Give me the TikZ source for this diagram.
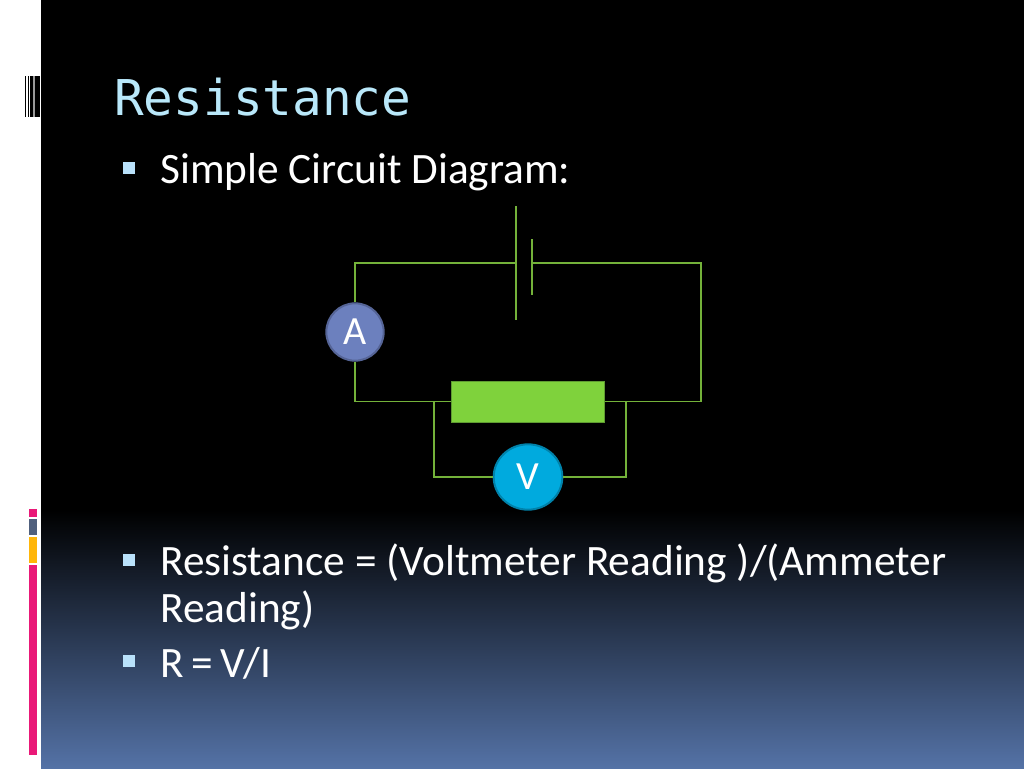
\documentclass[tikz,border=0pt]{standalone}
\usepackage{fontspec}
\setmainfont{Carlito}
\newfontfamily\titlefont{DejaVu Sans Mono}
\usetikzlibrary{shapes.geometric}
\definecolor{wire}{RGB}{116,178,58}
\definecolor{resfill}{RGB}{127,210,60}
\definecolor{resedge}{RGB}{95,155,50}
\definecolor{ammfill}{RGB}{108,128,190}
\definecolor{ammedge}{RGB}{85,100,150}
\definecolor{voltfill}{RGB}{0,170,222}
\definecolor{voltedge}{RGB}{0,130,170}
\definecolor{titlecol}{RGB}{185,232,250}
\definecolor{bullcol}{RGB}{185,225,250}
\definecolor{pinkbar}{RGB}{233,25,120}
\definecolor{greybar}{RGB}{80,96,125}
\definecolor{amberbar}{RGB}{255,182,10}
\definecolor{bluebottom}{RGB}{84,114,166}
\tikzset{
  x=0.75pt,y=-0.75pt,
  wireline/.style={draw=wire,line width=1.1pt},
  meter/.style={ellipse,inner sep=0pt,text=white,line width=1.5pt,font=\fontsize{30}{30}\selectfont},
  bodytext/.style={text=white,anchor=base west,inner sep=0pt,font=\fontsize{32.5}{35}\selectfont},
  bull/.style={fill=bullcol,minimum size=8.5pt,inner sep=0pt},
  bar/.style={fill=#1,draw=none}
}
\begin{document}
\begin{tikzpicture}
\useasboundingbox (0,0) rectangle (1024,768);
\fill[white] (0,0) rectangle (1024,768);
\fill[black] (41,0) rectangle (1024,511);
\shade[top color=black,bottom color=bluebottom,shading angle=0] (41,510) rectangle (1024,768);
% corner icon
\fill[black] (25,76) rectangle (25.8,117);
\fill[black] (28,76) rectangle (28.8,117);
\fill[black] (30,76) rectangle (33,117);
\fill[black!40] (33,76) rectangle (35,117);
\fill[black] (35,76) rectangle (40,117);
% side bars
\fill[bar=pinkbar] (28.5,508.5) rectangle (37,517);
\fill[bar=greybar] (28.5,519) rectangle (37,534.5);
\fill[bar=amberbar] (28.5,537) rectangle (37,562.5);
\fill[bar=pinkbar] (28.5,565) rectangle (37,755);
% text
\node[text=titlecol,anchor=base west,inner sep=0pt,font=\titlefont\fontsize{37}{40}\selectfont] (title) at (114,115.5) {Resistance};
\node[bull] (b1) at (129,168) {};
\node[bodytext] (t1) at (160,183) {Simple Circuit Diagram:};
\node[bull] (b2) at (129,560) {};
\node[bodytext] (t2) at (160,575) {Resistance = (Voltmeter Reading )/(Ammeter};
\node[bodytext] (t2b) at (160,622) {Reading)};
\node[bull] (b3) at (129,661) {};
\node[bodytext] (t3) at (160,677) {R\hspace{-1.5pt} = \hspace{-1.5pt}V/I};
% circuit
\coordinate (tl) at (355,263);
\coordinate (tr) at (701,263);
\coordinate (bl) at (355,401.5);
\coordinate (br) at (701,401.5);
\coordinate (batAt) at (516,206);
\coordinate (batAb) at (516,319.5);
\coordinate (batAm) at (516,263);
\coordinate (batBt) at (532,239);
\coordinate (batBb) at (532,295);
\coordinate (batBm) at (532,263);
\coordinate (vl) at (434,401.5);
\coordinate (vr) at (626,401.5);
\coordinate (vlb) at (434,477);
\coordinate (vrb) at (626,477);
\node[draw=resedge,fill=resfill,line width=1.2pt,minimum width=115pt,minimum height=30.5pt,inner sep=0pt] (res) at (528,402) {};
\node[meter,draw=ammedge,fill=ammfill,minimum width=43pt,minimum height=43pt] (A) at (355,332) {A};
\node[meter,draw=voltedge,fill=voltfill,minimum width=51.5pt,minimum height=49pt] (V) at (528,477) {V};
\draw[wireline] (A.north) -- (tl) -- (batAm);
\draw[wireline] (batAt) -- (batAb);
\draw[wireline] (batBt) -- (batBb);
\draw[wireline] (batBm) -- (tr) -- (br) -- (res.east |- br);
\draw[wireline] (A.south) -- (bl) -- (res.west |- bl);
\draw[wireline] (vl) -- (vlb) -- (V.west);
\draw[wireline] (vr) -- (vrb) -- (V.east);
\end{tikzpicture}
\end{document}
